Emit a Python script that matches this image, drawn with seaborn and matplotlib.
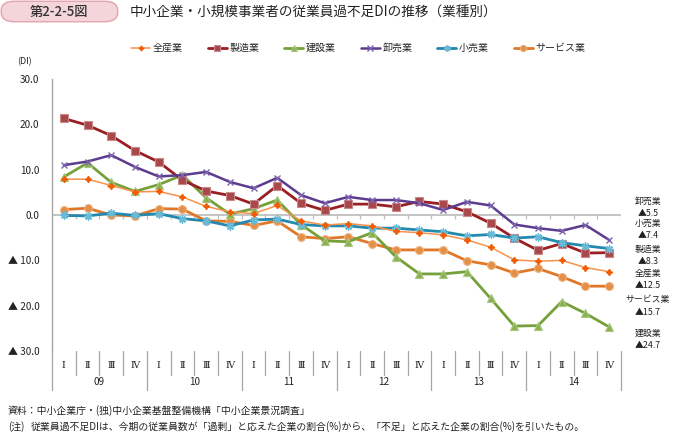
import matplotlib
matplotlib.use("Agg")
import matplotlib.pyplot as plt
from matplotlib.patches import FancyBboxPatch
import seaborn as sns
import pandas as pd
import numpy as np

# ---------------- data ----------------
quarters = ["Ⅰ", "Ⅱ", "Ⅲ", "Ⅳ"] * 6
years = ["09", "10", "11", "12", "13", "14"]

series_names = ["全産業", "製造業", "建設業", "卸売業", "小売業", "サービス業"]

all_industries = [7.9, 7.9, 6.5, 5.1, 5.2, 4.0, 1.9, 0.7, 0.3, 2.1, -1.3, -2.2,
                  -1.9, -2.4, -3.6, -3.9, -4.4, -5.5, -7.1, -9.9, -10.2, -10.0, -11.6, -12.5]
manufacturing = [21.3, 19.8, 17.5, 14.2, 11.7, 7.7, 5.3, 4.3, 2.4, 6.5, 2.6, 1.0,
                 2.4, 2.4, 1.8, 3.0, 2.4, 0.7, -1.8, -5.1, -7.8, -6.3, -8.4, -8.3]
construction = [8.4, 11.5, 7.2, 5.2, 6.7, 8.8, 3.8, 0.2, 1.4, 3.3, -2.1, -5.7,
                -5.9, -3.9, -9.2, -13.0, -13.0, -12.5, -18.4, -24.5, -24.4, -19.1, -21.7, -24.7]
wholesale = [11.0, 11.8, 13.2, 10.6, 8.5, 8.8, 9.5, 7.3, 5.9, 8.2, 4.4, 2.6,
             4.0, 3.3, 3.3, 2.6, 1.1, 2.9, 2.1, -2.1, -2.9, -3.5, -2.2, -5.5]
retail = [-0.1, -0.2, 0.4, -0.1, 0.3, -0.8, -1.3, -2.4, -1.1, -0.9, -2.1, -2.4,
          -2.4, -2.9, -2.9, -3.3, -3.7, -4.6, -4.3, -5.1, -4.8, -6.1, -6.8, -7.4]
services = [1.2, 1.5, 0.0, -0.2, 1.4, 1.3, -1.3, -1.4, -2.3, -1.3, -4.8, -5.2,
            -4.8, -6.3, -7.7, -7.7, -7.7, -10.1, -11.0, -12.8, -11.8, -13.6, -15.7, -15.7]

latest_labels = ["卸売業\n▲5.5", "小売業\n▲7.4", "製造業\n▲8.3",
                 "全産業\n▲12.5", "サービス業\n▲15.7", "建設業\n▲24.7"]

# ---------------- style ----------------
sns.set_style("white")
plt.rcParams["font.family"] = ["Noto Sans CJK JP", "DejaVu Sans"]

W, H = 676, 438
fig = plt.figure(figsize=(W / 100, H / 100), dpi=100)
L, R, T, B = 52, 621, 79, 351
ax = fig.add_axes([L / W, 1 - B / H, (R - L) / W, (B - T) / H])

x = np.arange(len(quarters))
values = [all_industries, manufacturing, construction, wholesale, retail, services]
styles = [
    dict(color="#F7924A", lw=1.1, marker=(4, 1, 0), ms=4.5, mfc="#F25C05", mec="#F25C05", zorder=7),
    dict(color="#9A1F24", lw=2.0, marker="s", ms=5.2, mfc="#A9484B", mec="#C98A8C", mew=0.8, zorder=4),
    dict(color="#76A13A", lw=2.0, marker="^", ms=5.6, mfc="#8AB153", mec="#A9C77F", mew=0.8, zorder=3),
    dict(color="#5C3C8E", lw=1.8, marker="x", ms=5, mfc="none", mec="#7D62AD", mew=1.0, zorder=5),
    dict(color="#2488AF", lw=2.0, marker=(8, 2, 0), ms=5.8, mfc="none", mec="#67BBD6", mew=1.0, zorder=6),
    dict(color="#E07729", lw=2.0, marker="o", ms=5.6, mfc="#E38F48", mec="#EDB07A", mew=0.8, zorder=2),
]

for name, vals, st in zip(series_names, values, styles):
    df = pd.DataFrame({"x": x, "v": vals})
    sns.lineplot(data=df, x="x", y="v", ax=ax, label=name, color=st["color"],
                 linewidth=st["lw"], marker=st["marker"], markersize=st["ms"],
                 markerfacecolor=st["mfc"], markeredgecolor=st["mec"],
                 markeredgewidth=st.get("mew", 1.0), zorder=st["zorder"],
                 clip_on=False)

ax.set_xlim(-0.5, len(quarters) - 0.5)
ax.set_ylim(-30, 30)
ax.set_xlabel("")
ax.set_ylabel("")

# spines
for s in ["top", "right", "bottom"]:
    ax.spines[s].set_visible(False)
ax.spines["left"].set_color("#A6A6A6")
ax.spines["left"].set_linewidth(1.0)

yt = [30, 20, 10, 0, -10, -20, -30]
ax.set_yticks(yt)
ax.set_yticklabels([f"{v:.1f}" if v >= 0 else f"▲ {abs(v):.1f}" for v in yt])
ax.tick_params(axis="y", direction="out", length=3, width=0.8, color="#A6A6A6",
               labelsize=7.2, pad=6, labelcolor="#222222")
ax.set_xticks([])

# zero line with small boundary ticks
ax.axhline(0, color="#BFBFBF", lw=1.3, zorder=1)
bounds = np.arange(len(quarters) + 1) - 0.5
ax.vlines(bounds[1:], -0.8, 0, color="#BFBFBF", lw=0.9, zorder=1)

# multi-level category axis below the plot
xt = ax.get_xaxis_transform()
for b in bounds:
    k = int(round(b + 0.5))
    y_end = -0.145 if k % 4 == 0 else -0.088
    ax.plot([b, b], [0.0, y_end], transform=xt, color="#A6A6A6", lw=0.9, clip_on=False)
for i, q in enumerate(quarters):
    ax.text(i, -0.052, q, transform=xt, ha="center", va="center", fontsize=6.8,
            family=["DejaVu Serif", "Noto Sans CJK JP"], color="#222222")
for j, yr in enumerate(years):
    ax.text(4 * j + 1.5, -0.113, yr, transform=xt, ha="center", va="center",
            fontsize=7.2, color="#222222")

# legend
leg = ax.legend(loc="center left", bbox_to_anchor=(131 / W, 1 - 48 / H),
                bbox_transform=fig.transFigure, ncol=6, frameon=False,
                fontsize=7.2, handlelength=1.9, handletextpad=0.3,
                columnspacing=2.45, borderpad=0, borderaxespad=0, markerscale=0.8)

# (DI) label
fig.text(24 / W, 1 - 62 / H, "(DI)", ha="center", va="center", fontsize=6.5, color="#222222")

# right-side latest labels
label_y = [207, 229, 255, 279, 306, 339]
for lab, yy in zip(latest_labels, label_y):
    fig.text(648 / W, 1 - yy / H, lab, ha="center", va="center", fontsize=6.4,
             linespacing=1.45, color="#222222")

# title box
box = FancyBboxPatch((4 / W, 1 - 20 / H), 111 / W, 17 / H,
                     boxstyle="round,pad=0.004,rounding_size=0.02",
                     transform=fig.transFigure, facecolor="#F3D5DA",
                     edgecolor="#E3A3AD", lw=1.0)
fig.patches.append(box)
fig.text(59 / W, 1 - 11.5 / H, "第2-2-5図", ha="center", va="center",
         fontsize=9.5, color="#333333", fontweight="medium")
fig.text(130 / W, 1 - 11.5 / H, "中小企業・小規模事業者の従業員過不足DIの推移（業種別）",
         ha="left", va="center", fontsize=9.8, color="#222222")

# footer
fig.text(8 / W, 1 - 411 / H, "資料：中小企業庁・(独)中小企業基盤整備機構「中小企業景況調査」",
         ha="left", va="center", fontsize=7.1, color="#222222")
fig.text(8 / W, 1 - 427 / H, "(注)", ha="left", va="center", fontsize=7.1, color="#222222")
fig.text(31 / W, 1 - 427 / H,
         "従業員過不足DIは、今期の従業員数が「過剰」と応えた企業の割合(%)から、「不足」と応えた企業の割合(%)を引いたもの。",
         ha="left", va="center", fontsize=7.1, color="#222222")

fig.savefig("out.png", dpi=100)
